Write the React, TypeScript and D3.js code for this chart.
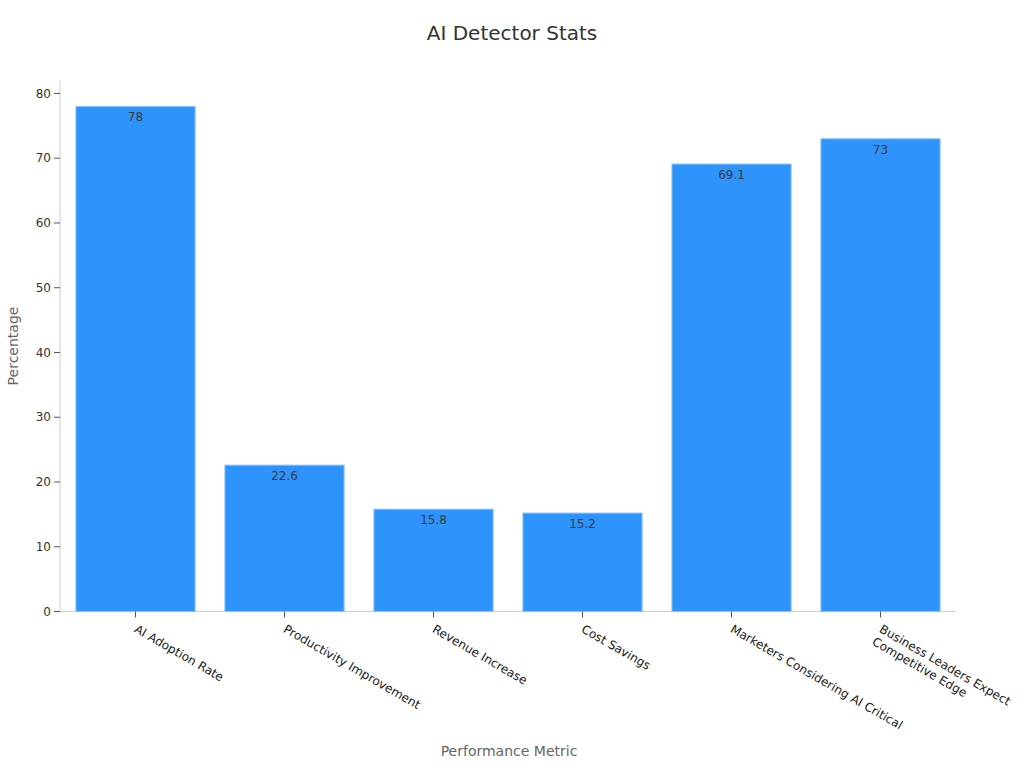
import React from "react";
import * as d3 from "d3";

const categories: string[][] = [
  ["AI Adoption Rate"],
  ["Productivity Improvement"],
  ["Revenue Increase"],
  ["Cost Savings"],
  ["Marketers Considering AI Critical"],
  ["Business Leaders Expect", "Competitive Edge"],
];
const values: number[] = [78, 22.6, 15.8, 15.2, 69.1, 73];
const yTicks: number[] = [0, 10, 20, 30, 40, 50, 60, 70, 80];

const W = 1024;
const H = 768;
const left = 60;
const right = 955;
const top = 80.5;
const bottom = 611.5;
const font = "DejaVu Sans, sans-serif";

export default function App() {
  const keys = categories.map((c) => c.join(" "));
  const x = d3.scaleBand<string>().domain(keys).range([left + 1, right]).paddingInner(0.2).paddingOuter(0.1);
  const y = d3.scaleLinear().domain([0, 82]).range([bottom, top]);

  return (
    <svg width={W} height={H} style={{ position: "absolute", left: 0, top: 0, fontFamily: font }}>
      <rect width={W} height={H} fill="#fff" />
      <text x={512} y={40} textAnchor="middle" fontSize={20} fill="#333">AI Detector Stats</text>
      <line x1={left} x2={left} y1={top} y2={bottom} stroke="#ccc" />
      <line x1={left} x2={right} y1={bottom} y2={bottom} stroke="#ccc" />
      {yTicks.map((t) => (
        <g key={t}>
          <line x1={left - 6} x2={left} y1={y(t)} y2={y(t)} stroke="#555" />
          <text x={left - 9} y={y(t)} dy="0.35em" textAnchor="end" fontSize={12} fill="#333">{t}</text>
        </g>
      ))}
      {categories.map((c, i) => {
        const k = keys[i];
        const cx = (x(k) as number) + x.bandwidth() / 2;
        return (
          <g key={k}>
            <rect x={x(k)} y={y(values[i])} width={x.bandwidth()} height={bottom - y(values[i])} fill="#2E93FA" stroke="#8cc2f7" strokeWidth={1} />
            <text x={cx} y={y(values[i]) + 15} textAnchor="middle" fontSize={12} fill="#3a3a3a">{values[i]}</text>
            <line x1={cx} x2={cx} y1={bottom} y2={bottom + 6} stroke="#555" />
            <text transform={`translate(${cx - 2},${bottom + 20}) rotate(30)`} fontSize={12} fill="#222">
              {c.map((line, j) => (
                <tspan key={j} x={0} dy={j === 0 ? 0 : 14.5}>{line}</tspan>
              ))}
            </text>
          </g>
        );
      })}
      <text x={509} y={756} textAnchor="middle" fontSize={14} fill="#666">Performance Metric</text>
      <text transform={`translate(18,346) rotate(-90)`} textAnchor="middle" fontSize={14} fill="#666">Percentage</text>
    </svg>
  );
}
